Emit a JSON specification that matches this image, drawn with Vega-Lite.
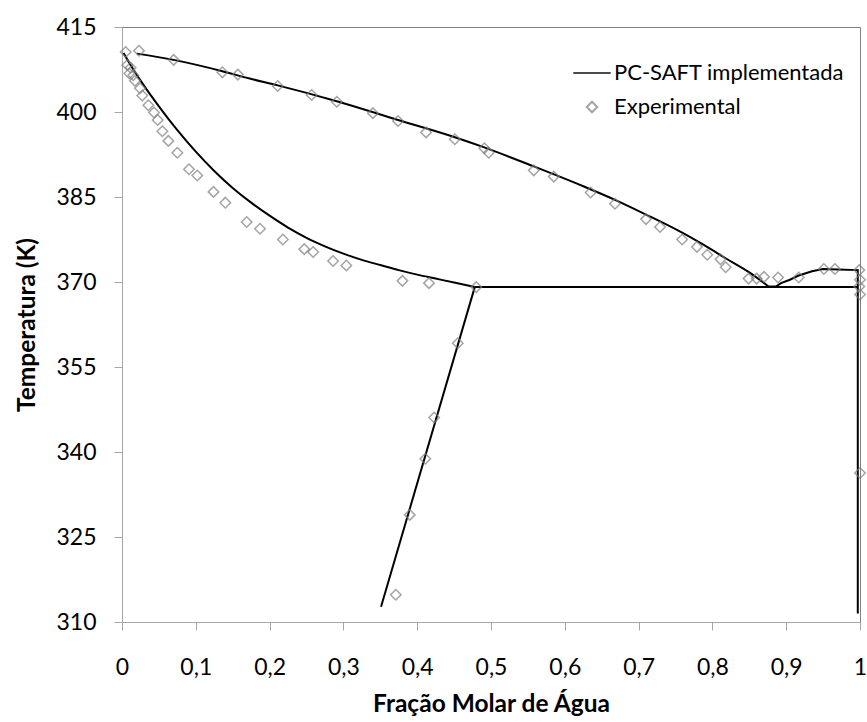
{
  "$schema": "https://vega.github.io/schema/vega-lite/v6.json",
  "width": 738,
  "height": 595,
  "autosize": {"type": "none"},
  "padding": {"left": 122, "top": 27, "right": 7, "bottom": 100},
  "background": "white",
  "config": {
    "font": "Lato",
    "view": {"stroke": "#808080", "strokeWidth": 1},
    "axis": {"grid": false, "domainColor": "#a6a6a6", "tickColor": "#a6a6a6", "tickSize": 8, "labelFont": "Lato", "labelFontSize": 23, "labelColor": "#000", "titleFont": "Lato", "titleFontSize": 24.5, "titleFontWeight": "bold", "titleColor": "#000"}
  },
  "datasets": {
    "model": [
      {"seg": "V1", "i": 1, "x": 0.02, "T": 410.3},
      {"seg": "V1", "i": 2, "x": 0.07, "T": 409.2},
      {"seg": "V1", "i": 3, "x": 0.136, "T": 407.2},
      {"seg": "V1", "i": 4, "x": 0.173, "T": 405.9},
      {"seg": "V1", "i": 5, "x": 0.211, "T": 404.7},
      {"seg": "V1", "i": 6, "x": 0.291, "T": 401.9},
      {"seg": "V1", "i": 7, "x": 0.374, "T": 398.6},
      {"seg": "V1", "i": 8, "x": 0.45, "T": 395.6},
      {"seg": "V1", "i": 9, "x": 0.49, "T": 393.8},
      {"seg": "V1", "i": 10, "x": 0.558, "T": 390.4},
      {"seg": "V1", "i": 11, "x": 0.625, "T": 386.9},
      {"seg": "V1", "i": 12, "x": 0.668, "T": 384.5},
      {"seg": "V1", "i": 13, "x": 0.71, "T": 381.9},
      {"seg": "V1", "i": 14, "x": 0.759, "T": 378.7},
      {"seg": "V1", "i": 15, "x": 0.79, "T": 376.4},
      {"seg": "V1", "i": 16, "x": 0.819, "T": 374.1},
      {"seg": "V1", "i": 17, "x": 0.851, "T": 371.6},
      {"seg": "V1", "i": 18, "x": 0.876, "T": 369.2},
      {"seg": "V2", "i": 1, "x": 0.876, "T": 369.2},
      {"seg": "V2", "i": 2, "x": 0.886, "T": 369.2},
      {"seg": "V2", "i": 3, "x": 0.893, "T": 369.8},
      {"seg": "V2", "i": 4, "x": 0.905, "T": 370.4},
      {"seg": "V2", "i": 5, "x": 0.916, "T": 371.1},
      {"seg": "V2", "i": 6, "x": 0.935, "T": 371.9},
      {"seg": "V2", "i": 7, "x": 0.95, "T": 372.3},
      {"seg": "V2", "i": 8, "x": 0.97, "T": 372.2},
      {"seg": "V2", "i": 9, "x": 0.997, "T": 372.1},
      {"seg": "V2", "i": 10, "x": 0.997, "T": 369.1},
      {"seg": "V2", "i": 11, "x": 0.997, "T": 311.5},
      {"seg": "L1", "i": 1, "x": 0.002, "T": 410.4},
      {"seg": "L1", "i": 2, "x": 0.015, "T": 407.6},
      {"seg": "L1", "i": 3, "x": 0.03, "T": 404.6},
      {"seg": "L1", "i": 4, "x": 0.05, "T": 401.0},
      {"seg": "L1", "i": 5, "x": 0.075, "T": 396.8},
      {"seg": "L1", "i": 6, "x": 0.1, "T": 393.0},
      {"seg": "L1", "i": 7, "x": 0.125, "T": 389.6},
      {"seg": "L1", "i": 8, "x": 0.15, "T": 386.6},
      {"seg": "L1", "i": 9, "x": 0.175, "T": 384.0},
      {"seg": "L1", "i": 10, "x": 0.2, "T": 381.7},
      {"seg": "L1", "i": 11, "x": 0.225, "T": 379.6},
      {"seg": "L1", "i": 12, "x": 0.25, "T": 377.8},
      {"seg": "L1", "i": 13, "x": 0.275, "T": 376.3},
      {"seg": "L1", "i": 14, "x": 0.3, "T": 375.0},
      {"seg": "L1", "i": 15, "x": 0.325, "T": 373.9},
      {"seg": "L1", "i": 16, "x": 0.35, "T": 373.0},
      {"seg": "L1", "i": 17, "x": 0.375, "T": 372.1},
      {"seg": "L1", "i": 18, "x": 0.4, "T": 371.3},
      {"seg": "L1", "i": 19, "x": 0.425, "T": 370.6},
      {"seg": "L1", "i": 20, "x": 0.45, "T": 369.9},
      {"seg": "L1", "i": 21, "x": 0.478, "T": 369.1},
      {"seg": "L2", "i": 1, "x": 0.478, "T": 369.1},
      {"seg": "L2", "i": 2, "x": 0.351, "T": 312.7},
      {"seg": "H", "i": 1, "x": 0.478, "T": 369.1},
      {"seg": "H", "i": 2, "x": 0.997, "T": 369.1}
    ],
    "exp": [
      {"series": "Experimental", "x": 0.005, "T": 410.6},
      {"series": "Experimental", "x": 0.023, "T": 410.8},
      {"series": "Experimental", "x": 0.07, "T": 409.2},
      {"series": "Experimental", "x": 0.136, "T": 407.0},
      {"series": "Experimental", "x": 0.157, "T": 406.6},
      {"series": "Experimental", "x": 0.211, "T": 404.6},
      {"series": "Experimental", "x": 0.257, "T": 403.0},
      {"series": "Experimental", "x": 0.291, "T": 401.8},
      {"series": "Experimental", "x": 0.34, "T": 399.8},
      {"series": "Experimental", "x": 0.374, "T": 398.4},
      {"series": "Experimental", "x": 0.412, "T": 396.4},
      {"series": "Experimental", "x": 0.451, "T": 395.2},
      {"series": "Experimental", "x": 0.491, "T": 393.6},
      {"series": "Experimental", "x": 0.497, "T": 392.8},
      {"series": "Experimental", "x": 0.558, "T": 389.7},
      {"series": "Experimental", "x": 0.585, "T": 388.6},
      {"series": "Experimental", "x": 0.635, "T": 385.8},
      {"series": "Experimental", "x": 0.668, "T": 383.8},
      {"series": "Experimental", "x": 0.71, "T": 381.1},
      {"series": "Experimental", "x": 0.729, "T": 379.7},
      {"series": "Experimental", "x": 0.759, "T": 377.5},
      {"series": "Experimental", "x": 0.779, "T": 376.2},
      {"series": "Experimental", "x": 0.793, "T": 374.8},
      {"series": "Experimental", "x": 0.811, "T": 374.0},
      {"series": "Experimental", "x": 0.818, "T": 372.6},
      {"series": "Experimental", "x": 0.849, "T": 370.6},
      {"series": "Experimental", "x": 0.86, "T": 370.6},
      {"series": "Experimental", "x": 0.87, "T": 370.9},
      {"series": "Experimental", "x": 0.889, "T": 370.8},
      {"series": "Experimental", "x": 0.917, "T": 370.8},
      {"series": "Experimental", "x": 0.951, "T": 372.3},
      {"series": "Experimental", "x": 0.966, "T": 372.3},
      {"series": "Experimental", "x": 0.999, "T": 372.1},
      {"series": "Experimental", "x": 1.0, "T": 370.4},
      {"series": "Experimental", "x": 0.999, "T": 369.2},
      {"series": "Experimental", "x": 1.0, "T": 367.8},
      {"series": "Experimental", "x": 1.0, "T": 336.3},
      {"series": "Experimental", "x": 0.0072, "T": 408.3},
      {"series": "Experimental", "x": 0.0117, "T": 407.8},
      {"series": "Experimental", "x": 0.0099, "T": 406.8},
      {"series": "Experimental", "x": 0.0153, "T": 406.5},
      {"series": "Experimental", "x": 0.0176, "T": 405.5},
      {"series": "Experimental", "x": 0.0244, "T": 404.2},
      {"series": "Experimental", "x": 0.0275, "T": 402.9},
      {"series": "Experimental", "x": 0.0357, "T": 401.2},
      {"series": "Experimental", "x": 0.0434, "T": 399.9},
      {"series": "Experimental", "x": 0.0484, "T": 398.6},
      {"series": "Experimental", "x": 0.0547, "T": 396.6},
      {"series": "Experimental", "x": 0.0628, "T": 394.9},
      {"series": "Experimental", "x": 0.075, "T": 392.8},
      {"series": "Experimental", "x": 0.0908, "T": 389.9},
      {"series": "Experimental", "x": 0.102, "T": 388.8},
      {"series": "Experimental", "x": 0.124, "T": 385.9},
      {"series": "Experimental", "x": 0.14, "T": 384.0},
      {"series": "Experimental", "x": 0.169, "T": 380.6},
      {"series": "Experimental", "x": 0.187, "T": 379.4},
      {"series": "Experimental", "x": 0.218, "T": 377.5},
      {"series": "Experimental", "x": 0.247, "T": 375.8},
      {"series": "Experimental", "x": 0.259, "T": 375.3},
      {"series": "Experimental", "x": 0.286, "T": 373.7},
      {"series": "Experimental", "x": 0.304, "T": 372.9},
      {"series": "Experimental", "x": 0.38, "T": 370.2},
      {"series": "Experimental", "x": 0.416, "T": 369.8},
      {"series": "Experimental", "x": 0.48, "T": 369.1},
      {"series": "Experimental", "x": 0.455, "T": 359.2},
      {"series": "Experimental", "x": 0.423, "T": 346.1},
      {"series": "Experimental", "x": 0.411, "T": 338.8},
      {"series": "Experimental", "x": 0.39, "T": 328.9},
      {"series": "Experimental", "x": 0.371, "T": 314.8}
    ]
  },
  "encoding": {
    "x": {
      "field": "x", "type": "quantitative",
      "scale": {"domain": [0, 1], "nice": false, "zero": false},
      "axis": {
        "title": "Fração Molar de Água",
        "values": [0, 0.1, 0.2, 0.3, 0.4, 0.5, 0.6, 0.7, 0.8, 0.9, 1],
        "labelExpr": "replace(format(datum.value, '~g'), '.', ',')",
        "labelFlush": false,
        "labelOverlap": false,
        "labelBaseline": "middle",
        "labelPadding": 37,
        "titleBaseline": "middle",
        "titleY": 82
      }
    },
    "y": {
      "field": "T", "type": "quantitative",
      "scale": {"domain": [310, 415], "nice": false, "zero": false},
      "axis": {
        "title": "Temperatura (K)",
        "values": [310, 325, 340, 355, 370, 385, 400, 415],
        "labelPadding": 18,
        "titleBaseline": "middle",
        "titleX": -95
      }
    }
  },
  "layer": [
    {
      "data": {"name": "model"},
      "transform": [{"filter": {"field": "seg", "oneOf": ["V1", "L1"]}}],
      "mark": {"type": "line", "color": "#000000", "strokeWidth": 2, "interpolate": "monotone"},
      "encoding": {
        "detail": {"field": "seg", "type": "nominal"},
        "order": {"field": "i", "type": "quantitative"}
      }
    },
    {
      "data": {"name": "model"},
      "transform": [{"filter": {"field": "seg", "oneOf": ["V2", "L2", "H"]}}],
      "mark": {"type": "line", "color": "#000000", "strokeWidth": 2},
      "encoding": {
        "detail": {"field": "seg", "type": "nominal"},
        "order": {"field": "i", "type": "quantitative"}
      }
    },
    {
      "data": {"name": "exp"},
      "mark": {"type": "point", "filled": false, "strokeWidth": 1.5},
      "encoding": {
        "shape": {
          "field": "series", "type": "nominal",
          "scale": {"domain": ["PC-SAFT implementada", "Experimental"], "range": ["stroke", "diamond"]},
          "legend": {
            "title": null,
            "orient": "none",
            "legendX": 450,
            "legendY": 26,
            "padding": 0,
            "rowPadding": 12,
            "labelFont": "Lato",
            "labelFontSize": 22,
            "labelColor": "#000",
            "labelOffset": 2,
            "labelLimit": 400,
            "symbolStrokeWidth": 2
          }
        },
        "color": {
          "field": "series", "type": "nominal",
          "scale": {"domain": ["PC-SAFT implementada", "Experimental"], "range": ["#000000", "#7f7f7f"]}
        },
        "size": {
          "field": "series", "type": "nominal",
          "scale": {"domain": ["PC-SAFT implementada", "Experimental"], "range": [1400, 110]}
        }
      }
    }
  ]
}
